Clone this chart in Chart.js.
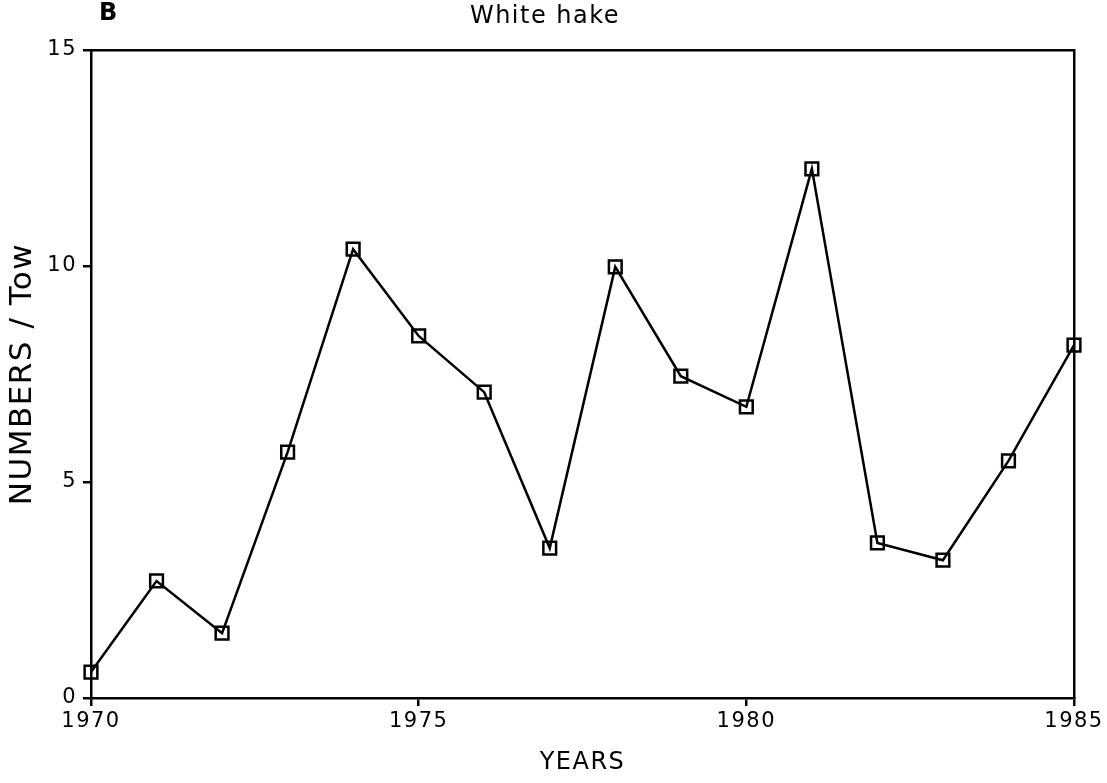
<!DOCTYPE html>
<html>
<head>
<meta charset="utf-8">
<script src="https://cdn.jsdelivr.net/npm/chart.js@4/dist/chart.umd.min.js"></script>
<style>
    html, body { margin: 0; padding: 0; background: #fff; }
    #wrap { width: 1107px; height: 783px; }
</style>
</head>
<body>
<div id="wrap"><canvas id="hakeChart"></canvas></div>
<script>
// White hake, numbers per tow
const years = [1970, 1971, 1972, 1973, 1974, 1975, 1976, 1977, 1978, 1979, 1980, 1981, 1982, 1983, 1984, 1985];
const numbersPerTow = [0.60, 2.71, 1.50, 5.69, 10.39, 8.38, 7.08, 3.47, 9.98, 7.45, 6.74, 12.25, 3.59, 3.19, 5.49, 8.17];
const xTicks = [1970, 1975, 1980, 1985];
const yTicks = [0, 5, 10, 15];

const FONT = "'DejaVu Sans', sans-serif";

// wider letter spacing, like the old plotter lettering
const spacing = {
    id: 'spacing',
    beforeDraw(chart) {
        chart.ctx.letterSpacing = '1.5px';
    }
};

// panel letter + title drawn on top
const headerText = {
    id: 'headerText',
    afterDraw(chart) {
        const ctx = chart.ctx;
        ctx.save();
        ctx.fillStyle = '#000';
        ctx.textBaseline = 'middle';
        ctx.font = `bold 24px ${FONT}`;
        ctx.textAlign = 'left';
        ctx.fillText('B', 99, 14);
        ctx.font = `24px ${FONT}`;
        ctx.textAlign = 'center';
        ctx.fillText('White hake', 545, 17);
        ctx.restore();
    }
};

const frameAxis = {
    display: true,
    grid: { display: false },
    ticks: { display: false },
    border: { display: true, color: '#000', width: 2.5 }
};

new Chart(document.getElementById('hakeChart'), {
    type: 'line',
    data: {
        datasets: [{
            data: years.map((y, i) => ({ x: y, y: numbersPerTow[i] })),
            borderColor: '#000',
            borderWidth: 2.5,
            pointStyle: 'rect',
            pointRadius: 9,
            pointBorderWidth: 2.5,
            pointBorderColor: '#000',
            pointBackgroundColor: 'rgba(0,0,0,0)',
            tension: 0,
            clip: false
        }]
    },
    options: {
        responsive: true,
        maintainAspectRatio: false,
        animation: false,
        layout: { padding: 0 },
        plugins: {
            legend: { display: false },
            tooltip: { enabled: false }
        },
        scales: {
            x: {
                type: 'linear',
                position: 'bottom',
                min: 1970,
                max: 1985,
                afterBuildTicks: s => { s.ticks = xTicks.map(v => ({ value: v })); },
                afterFit: s => { s.height = 85; },
                grid: { drawOnChartArea: false, drawTicks: true, tickLength: 8, color: '#000', lineWidth: 2.5 },
                border: { display: true, color: '#000', width: 2.5 },
                ticks: { color: '#000', font: { family: FONT, size: 21 }, padding: 3, maxRotation: 0, callback: v => String(v) },
                title: { display: true, text: 'YEARS', color: '#000', font: { family: FONT, size: 24 }, padding: { top: 4, bottom: 6 } }
            },
            y: {
                position: 'left',
                min: 0,
                max: 15,
                afterBuildTicks: s => { s.ticks = yTicks.map(v => ({ value: v })); },
                afterFit: s => { s.width = 91; },
                grid: { drawOnChartArea: false, drawTicks: true, tickLength: 8, color: '#000', lineWidth: 2.5 },
                border: { display: true, color: '#000', width: 2.5 },
                ticks: { color: '#000', font: { family: FONT, size: 21 }, padding: 6 },
                title: { display: true, text: 'NUMBERS / Tow', color: '#000', font: { family: FONT, size: 31 }, padding: { top: 4, bottom: 0 } }
            },
            xTop: Object.assign({}, frameAxis, {
                type: 'linear', position: 'top', min: 1970, max: 1985,
                afterFit: s => { s.height = 50; }
            }),
            yRight: Object.assign({}, frameAxis, {
                position: 'right', min: 0, max: 15,
                afterFit: s => { s.width = 33; }
            })
        }
    },
    plugins: [spacing, headerText]
});
</script>
</body>
</html>
